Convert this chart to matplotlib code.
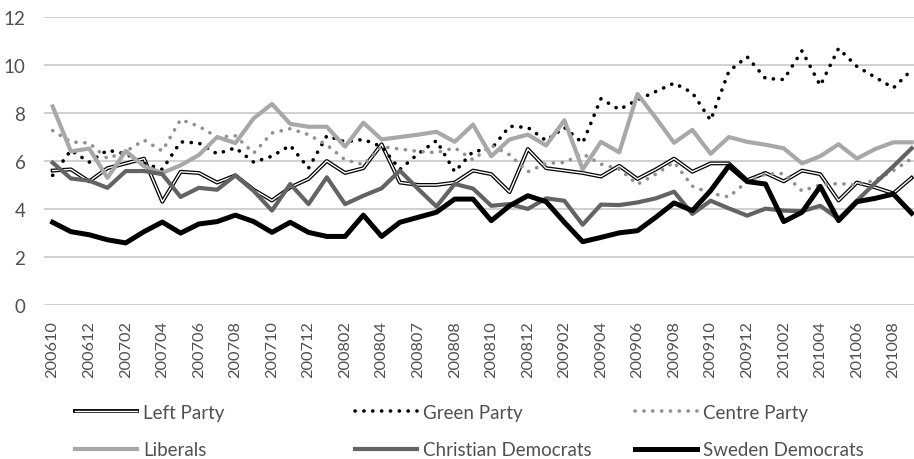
import matplotlib
matplotlib.use('Agg')
import matplotlib.pyplot as plt
import matplotlib.patheffects as pe

# monthly poll periods (only every second one is labelled on the axis)
periods = ['200610', '200611', '200612', '200701', '200702', '200703', '200704', '200705',
           '200706', '200707', '200708', '200709', '200710', '200711', '200712', '200801',
           '200802', '200803', '200804', '200806', '200807', '200807', '200808', '200809',
           '200810', '200811', '200812', '200901', '200902', '200903', '200904', '200905',
           '200906', '200907', '200908', '200909', '200910', '200911', '200912', '201001',
           '201002', '201003', '201004', '201005', '201006', '201007', '201008', '201009']

left_party = [5.6, 5.65, 5.15, 5.7, 5.9, 6.1, 4.3, 5.55, 5.5, 5.1, 5.4, 4.8,
              4.35, 4.9, 5.25, 6.0, 5.5, 5.7, 6.7, 5.1, 5.0, 5.0, 5.1, 5.6,
              5.45, 4.7, 6.5, 5.7, 5.6, 5.5, 5.35, 5.8, 5.25, 5.65, 6.1, 5.55,
              5.9, 5.9, 5.2, 5.5, 5.15, 5.6, 5.45, 4.35, 5.1, 4.9, 4.65, 5.3]
green_party = [5.4, 6.45, 5.95, 6.45, 6.3, 5.9, 5.65, 6.8, 6.75, 6.3, 6.55, 5.95,
               6.2, 6.65, 5.7, 7.05, 6.8, 6.9, 6.6, 5.65, 6.3, 6.85, 5.55, 6.4,
               6.5, 7.45, 7.4, 6.85, 7.4, 6.75, 8.6, 8.15, 8.55, 8.9, 9.25, 8.85,
               7.7, 9.75, 10.35, 9.45, 9.4, 10.6, 9.15, 10.7, 9.95, 9.5, 9.05, 9.8]
centre_party = [7.27, 6.8, 6.75, 6.1, 6.4, 6.87, 6.42, 7.73, 7.45, 7.0, 7.05, 6.33,
                7.17, 7.35, 7.1, 6.67, 6.05, 5.85, 6.6, 6.5, 6.4, 6.35, 6.55, 6.05,
                6.65, 6.26, 5.55, 5.9, 5.94, 6.3, 5.87, 5.66, 5.03, 5.45, 5.95, 4.95,
                4.65, 4.5, 5.15, 5.45, 5.48, 4.75, 5.0, 5.06, 5.0, 5.2, 5.6, 6.1]
liberals = [8.28, 6.4, 6.52, 5.3, 6.42, 5.78, 5.5, 5.82, 6.25, 7.0, 6.75, 7.78,
            8.38, 7.55, 7.43, 7.43, 6.6, 7.6, 6.9, 7.0, 7.1, 7.22, 6.8, 7.52,
            6.2, 6.9, 7.1, 6.65, 7.7, 5.65, 6.8, 6.36, 8.8, 7.8, 6.76, 7.3,
            6.3, 7.0, 6.8, 6.68, 6.53, 5.9, 6.2, 6.7, 6.1, 6.5, 6.78, 6.78]
christian_dem = [5.93, 5.27, 5.18, 4.88, 5.58, 5.58, 5.45, 4.5, 4.88, 4.8, 5.4, 4.75,
                 3.93, 5.04, 4.2, 5.32, 4.2, 4.55, 4.86, 5.6, 4.83, 4.1, 5.04, 4.85,
                 4.13, 4.2, 4.0, 4.44, 4.34, 3.34, 4.18, 4.16, 4.27, 4.44, 4.72, 3.79,
                 4.34, 4.02, 3.72, 4.01, 3.93, 3.9, 4.13, 3.58, 4.34, 5.08, 5.78, 6.53]
sweden_dem = [3.44, 3.05, 2.92, 2.71, 2.58, 3.05, 3.45, 2.99, 3.37, 3.47, 3.74, 3.47,
              3.02, 3.44, 3.02, 2.85, 2.85, 3.74, 2.85, 3.44, 3.65, 3.86, 4.41, 4.41,
              3.51, 4.13, 4.55, 4.3, 3.44, 2.63, 2.81, 3.0, 3.09, 3.65, 4.25, 3.93,
              4.76, 5.8, 5.14, 5.04, 3.47, 3.86, 4.94, 3.51, 4.3, 4.44, 4.62, 3.82]

plt.rcParams['font.family'] = ['Lato', 'DejaVu Sans']
txt_col = '#505050'

fig = plt.figure(figsize=(9.14, 4.6), dpi=100)
W, H = 914.0, 460.0
# plot area in pixels: x 43.5..920.8 (right edge cut off), y 18.3..305.7
ax = fig.add_axes([43.5 / W, (H - 305.7) / H, 877.3 / W, 287.4 / H])

x = list(range(len(periods)))
dots = (0.05, 2.4)

h_left, = ax.plot(x, left_party, color='white', lw=1.0, label='Left Party',
                  path_effects=[pe.Stroke(linewidth=2.8, foreground='black'), pe.Normal()])
h_green, = ax.plot(x, green_party, color='black', lw=2.6, dashes=dots,
                   dash_capstyle='round', label='Green Party')
h_centre, = ax.plot(x, centre_party, color='#909090', lw=2.6, dashes=dots,
                    dash_capstyle='round', label='Centre Party')
h_lib, = ax.plot(x, liberals, color='#a8a8a8', lw=3.0, label='Liberals')
h_cd, = ax.plot(x, christian_dem, color='#636363', lw=3.0, label='Christian Democrats')
h_sd, = ax.plot(x, sweden_dem, color='black', lw=3.6, label='Sweden Democrats')

ax.set_xlim(-0.5, len(periods) - 0.5)
ax.set_ylim(0, 12)
ax.set_yticks(range(0, 13, 2))
ax.set_xticks(x[::2])
ax.set_xticklabels(periods[::2], rotation=90)
ax.tick_params(axis='x', length=0, pad=11, labelsize=11.8, labelcolor=txt_col)
ax.tick_params(axis='y', length=0, pad=13, labelsize=13.5, labelcolor=txt_col)
ax.grid(axis='y', color='#d0d0d0', lw=1.4)
ax.set_axisbelow(True)
for s in ax.spines.values():
    s.set_visible(False)

# legend: three evenly spaced columns, like the spreadsheet original
handles = [h_left, h_green, h_centre, h_lib, h_cd, h_sd]
col_x = [75, 355, 635]
for c in range(3):
    leg = fig.legend(handles=[handles[c], handles[c + 3]], loc='upper left',
                     bbox_to_anchor=(col_x[c] / W, 1 - 405 / H), frameon=False,
                     fontsize=13.5, labelcolor=txt_col, handlelength=3.3,
                     handletextpad=0.35, labelspacing=1.08, borderpad=0, borderaxespad=0)

fig.savefig('out.png', dpi=100)
